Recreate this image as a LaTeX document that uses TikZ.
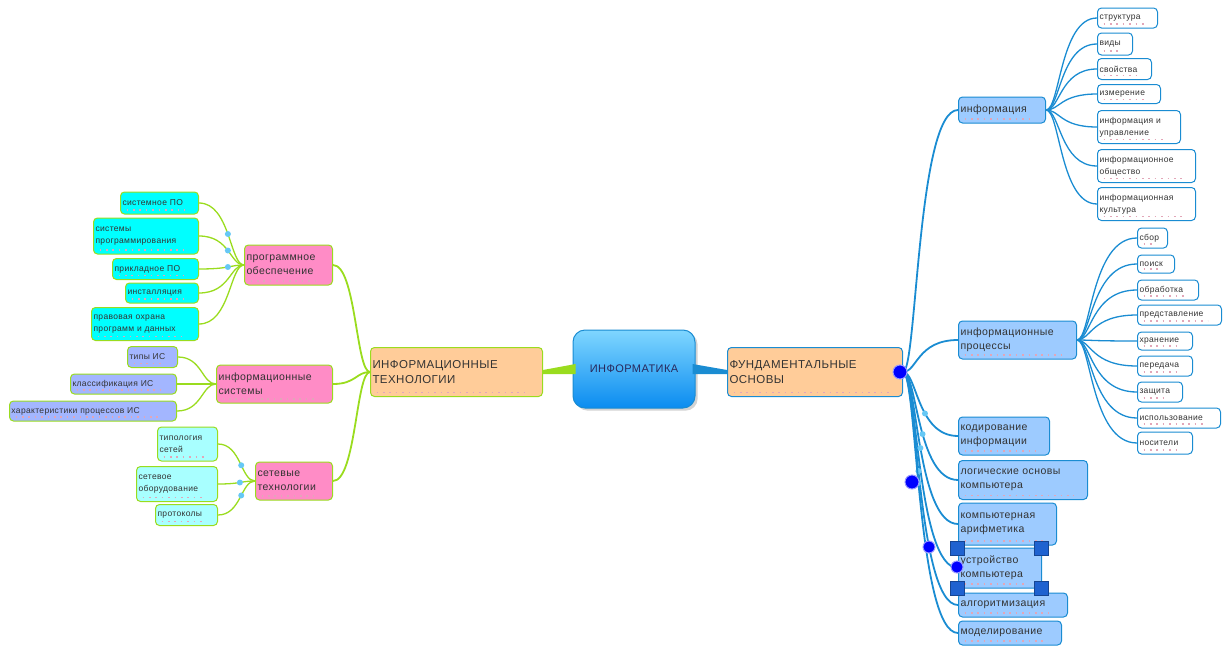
\documentclass[tikz,border=0pt]{standalone}
\usepackage{fontspec}
\setmainfont[LetterSpace=4]{Liberation Sans}
\usetikzlibrary{calc,shadows}
\definecolor{grnl}{HTML}{9ADC1E}
\definecolor{bluel}{HTML}{1A8CD2}
\definecolor{pinkf}{HTML}{FF8CC6}
\definecolor{cyanf}{HTML}{00FFFF}
\definecolor{palecy}{HTML}{A8FFFF}
\definecolor{perif}{HTML}{A3B6FF}
\definecolor{orangef}{HTML}{FFCC99}
\definecolor{skyf}{HTML}{9DCBFF}
\definecolor{ink}{HTML}{333333}
\definecolor{dotc}{HTML}{66C8F5}
\definecolor{speck}{HTML}{E2A6B8}
\definecolor{handle}{HTML}{1F62D0}
\definecolor{ctrtop}{HTML}{7FD6FF}
\definecolor{ctrbot}{HTML}{0A8CF0}
\tikzset{
  box/.style={rectangle, rounded corners=4pt, line width=1pt, align=left,
              inner xsep=2pt, inner ysep=1pt, text=ink, specks},
  specks/.style={path picture={\draw[speck, line width=1.6pt, dash pattern=on 1.6pt off 4.8pt]
              ($(path picture bounding box.south west)+(6pt,4pt)$) --
              ($(path picture bounding box.south east)+(-14pt,4pt)$);}},
  topicit/.style={box, draw=grnl, fill=orangef, font=\fontsize{11.5}{15}\selectfont},
  topicfo/.style={box, draw=bluel, fill=orangef, font=\fontsize{11.5}{15}\selectfont},
  lsub/.style={box, draw=grnl, fill=pinkf, font=\fontsize{10.5}{14}\selectfont},
  lcy/.style={box, draw=grnl, fill=cyanf, font=\fontsize{8.5}{12}\selectfont},
  lper/.style={box, draw=grnl, fill=perif, font=\fontsize{8.5}{12}\selectfont},
  lpale/.style={box, draw=grnl, fill=palecy, font=\fontsize{8.5}{12}\selectfont},
  rsub/.style={box, draw=bluel, fill=skyf, font=\fontsize{10.5}{14}\selectfont},
  rleaf/.style={box, draw=bluel, fill=white, font=\fontsize{8.5}{12}\selectfont},
  sz/.style 2 args={text width=#1pt-5pt, minimum height=#2pt},
  gbr/.style={draw=grnl, line width=1.8pt},
  gtw/.style={draw=grnl, line width=1.3pt},
  bbr/.style={draw=bluel, line width=1.8pt},
  btw/.style={draw=bluel, line width=1.3pt},
  knob/.style={circle, fill=dotc, inner sep=0pt, minimum size=6pt},
  bigknob/.style={circle, fill=blue, draw=blue!40, line width=1pt, inner sep=0pt, minimum size=14pt},
  grip/.style={rectangle, fill=handle, draw=handle!70!black, line width=0.6pt, inner sep=0pt, minimum size=14pt},
}
% curved branch, leaving to the right
\newcommand{\rbranch}[3]{\draw[#1] (#2.east) .. controls +(14,0) and ($(#2.east|-#3.west)+(14,0)$) .. (#3.west);}
% same with a knob on it
\newcommand{\rbranchk}[4]{\draw[#1] (#2.east) .. controls +(14,0) and ($(#2.east|-#3.west)+(14,0)$) .. node[knob, pos=#4] {} (#3.west);}
% curved branch, leaving to the left
\newcommand{\lbranch}[3]{\draw[#1] (#2.west) .. controls +(-14,0) and ($(#2.west|-#3.east)+(-14,0)$) .. (#3.east);}
\newcommand{\lbranchk}[4]{\draw[#1] (#2.west) .. controls +(-14,0) and ($(#2.west|-#3.east)+(-14,0)$) .. node[knob, pos=#4] {} (#3.east);}

\begin{document}
\begin{tikzpicture}[x=1pt, y=-1pt]
  \useasboundingbox (0,0) rectangle (1232,648);

  % centre and main topics
  \node[rectangle, rounded corners=12pt, top color=ctrtop, bottom color=ctrbot, draw=bluel,
        line width=1pt, drop shadow={opacity=0.35}, minimum width=122pt, minimum height=78pt,
        font=\fontsize{11}{13}\selectfont, text=ink!80!blue] (ctr) at (634,369) {ИНФОРМАТИКА};
  \node[topicit, sz={173}{49}, anchor=west] (it) at (370,372) {ИНФОРМАЦИОННЫЕ\\ТЕХНОЛОГИИ};
  \node[topicfo, sz={176}{49}, anchor=west] (fo) at (727,372) {ФУНДАМЕНТАЛЬНЫЕ\\ОСНОВЫ};
  \fill[grnl] ($(ctr.west)+(3,-5)$) -- ($(it.east)+(0,-2)$) -- ($(it.east)+(0,2)$) -- ($(ctr.west)+(3,5)$) -- cycle;
  \fill[bluel] ($(ctr.east)+(-3,-5)$) -- ($(fo.west)+(0,-2)$) -- ($(fo.west)+(0,2)$) -- ($(ctr.east)+(-3,5)$) -- cycle;

  % left side
  \node[lsub, sz={89}{40}, anchor=west] (po) at (244,265) {программное\\обеспечение};
  \node[lsub, sz={117}{38}, anchor=west] (is) at (216,384) {информационные\\системы};
  \node[lsub, sz={78}{38}, anchor=west] (net) at (255,481) {сетевые\\технологии};
  \lbranch{gbr}{it}{po}
  \lbranch{gbr}{it}{is}
  \lbranch{gbr}{it}{net}

  \node[lcy, sz={79}{22}, anchor=east] (sysPO) at (199,203) {системное ПО};
  \node[lcy, sz={106}{36}, anchor=east] (sysProg) at (199,236) {системы\\программирования};
  \node[lcy, sz={87}{21}, anchor=east] (prikl) at (199,269) {прикладное ПО};
  \node[lcy, sz={74}{20}, anchor=east] (inst) at (199,293) {инсталляция};
  \node[lcy, sz={108}{33}, anchor=east] (pravo) at (199,324) {правовая охрана\\программ и данных};
  \lbranchk{gtw}{po}{sysPO}{0.5}
  \lbranchk{gtw}{po}{sysProg}{0.5}
  \lbranchk{gtw}{po}{prikl}{0.5}
  \foreach \c in {inst,pravo} {\lbranch{gtw}{po}{\c}}

  \node[lper, sz={51}{21}, anchor=east] (tipy) at (178,357) {типы ИС};
  \node[lper, sz={107}{20}, anchor=east] (klass) at (177,384) {классификация ИС};
  \node[lper, sz={168}{20}, anchor=east] (harakt) at (177,411) {характеристики процессов ИС};
  \foreach \c in {tipy,klass,harakt} {\lbranch{gtw}{is}{\c}}

  \node[lpale, sz={61}{34}, anchor=east] (tipol) at (218,444) {типология\\сетей};
  \node[lpale, sz={82}{35}, anchor=east] (oborud) at (218,484) {сетевое\\оборудование};
  \node[lpale, sz={63}{21}, anchor=east] (prot) at (218,515) {протоколы};
  \lbranchk{gtw}{net}{tipol}{0.45}
  \lbranchk{gtw}{net}{oborud}{0.5}
  \lbranchk{gtw}{net}{prot}{0.45}

  % right side
  \node[rsub, sz={88}{26}, anchor=west] (info) at (958,110) {информация};
  \node[rsub, sz={119}{38}, anchor=west] (proc) at (958,340) {информационные\\процессы};
  \node[rsub, sz={92}{38}, anchor=west] (kod) at (958,436) {кодирование\\информации};
  \node[rsub, sz={130}{39}, anchor=west] (logic) at (958,480) {логические основы\\компьютера};
  \node[rsub, sz={99}{42}, anchor=west] (arif) at (958,524) {компьютерная\\арифметика};
  \node[rsub, sz={84}{40}, anchor=west] (ustr) at (958,568) {устройство\\компьютера};
  \node[rsub, sz={110}{24}, anchor=west] (alg) at (958,605) {алгоритмизация};
  \node[rsub, sz={104}{24}, anchor=west] (model) at (958,633) {моделирование};
  \foreach \c in {info,proc,ustr} {\rbranch{bbr}{fo}{\c}}
  \rbranchk{bbr}{fo}{kod}{0.6}
  \rbranchk{bbr}{fo}{logic}{0.55}
  \rbranchk{bbr}{fo}{arif}{0.5}
  \rbranchk{bbr}{fo}{alg}{0.45}
  \rbranchk{bbr}{fo}{model}{0.45}

  \node[rleaf, sz={61}{20}, anchor=west] (strukt) at (1097,18) {структура};
  \node[rleaf, sz={36}{22}, anchor=west] (vidy) at (1097,44) {виды};
  \node[rleaf, sz={55}{21}, anchor=west] (svoistva) at (1097,69) {свойства};
  \node[rleaf, sz={64}{19}, anchor=west] (izmer) at (1097,94) {измерение};
  \node[rleaf, sz={84}{33}, anchor=west] (iupr) at (1097,127) {информация и\\управление};
  \node[rleaf, sz={99}{33}, anchor=west] (iobsh) at (1097,166) {информационное\\общество};
  \node[rleaf, sz={99}{33}, anchor=west] (ikult) at (1097,204) {информационная\\культура};
  \foreach \c in {strukt,vidy,svoistva,izmer,iupr,iobsh,ikult} {\rbranch{btw}{info}{\c}}

  \node[rleaf, sz={31}{20}, anchor=west] (sbor) at (1137,238) {сбор};
  \node[rleaf, sz={38}{18}, anchor=west] (poisk) at (1137,264) {поиск};
  \node[rleaf, sz={62}{20}, anchor=west] (obrab) at (1137,290) {обработка};
  \node[rleaf, sz={85}{20}, anchor=west] (pred) at (1137,315) {представление};
  \node[rleaf, sz={56}{18}, anchor=west] (hran) at (1137,341) {хранение};
  \node[rleaf, sz={56}{20}, anchor=west] (pered) at (1137,366) {передача};
  \node[rleaf, sz={46}{20}, anchor=west] (zash) at (1137,392) {защита};
  \node[rleaf, sz={84}{20}, anchor=west] (isp) at (1137,418) {использование};
  \node[rleaf, sz={56}{22}, anchor=west] (nos) at (1137,443) {носители};
  \foreach \c in {sbor,poisk,obrab,pred,hran,pered,zash,isp,nos} {\rbranch{btw}{proc}{\c}}

  \node[bigknob] (b1) at (900,372) {};
  \node[bigknob] (b2) at (912,482) {};
  \node[bigknob, minimum size=12pt] (b3) at (929,547) {};
  \node[bigknob, minimum size=12pt] (b4) at (957,567) {};
  \node[grip] (g1) at (957,548) {};
  \node[grip] (g2) at (1041,548) {};
  \node[grip] (g3) at (957,588) {};
  \node[grip] (g4) at (1041,588) {};
\end{tikzpicture}
\end{document}
